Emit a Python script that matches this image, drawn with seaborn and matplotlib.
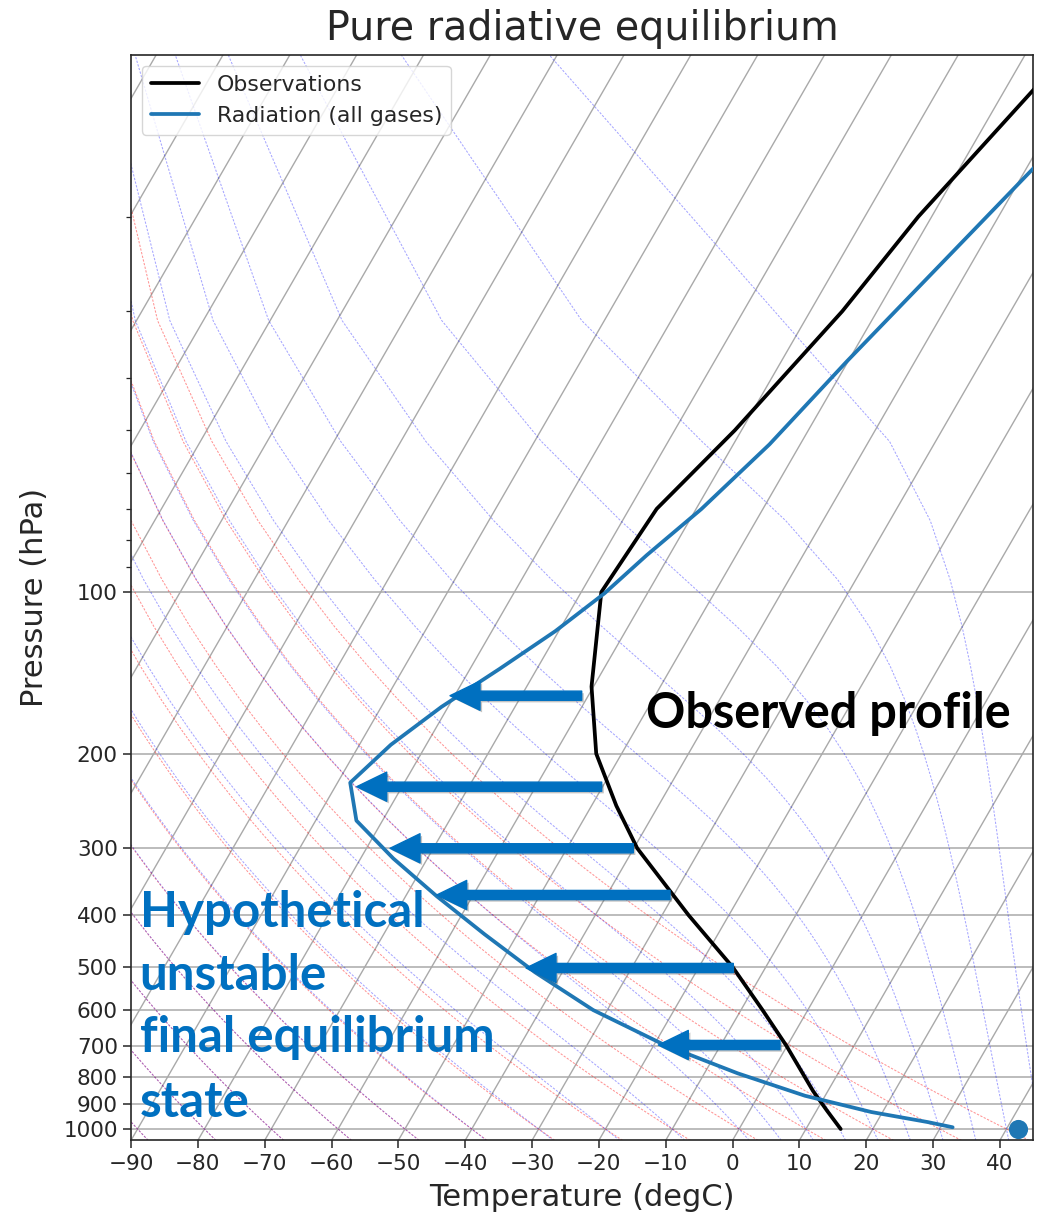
import numpy as np
import pandas as pd
import matplotlib
matplotlib.use("Agg")
import matplotlib.pyplot as plt
import seaborn as sns
from matplotlib.transforms import Affine2D
from matplotlib.collections import LineCollection
from matplotlib.ticker import FixedLocator, LogLocator, NullFormatter
import matplotlib.patheffects as pe

# ---------------------------------------------------------------- data
# Observed global-mean temperature profile on the reanalysis pressure levels
obs_lev = [1000, 925, 850, 700, 600, 500, 400, 300, 250, 200, 150, 100, 70, 50, 30, 20, 10]
obs_temp = [15.2, 11.6, 7.8, -0.1, -6.8, -14.9, -26.0, -39.5, -46.3, -53.8,
            -60.3, -67.0, -65.9, -61.0, -55.2, -52.0, -44.0]

# Pure radiative equilibrium column (model levels, hPa) and its temperatures (degC)
rad_lev = [3.54, 7.39, 13.97, 23.94, 37.23, 53.11, 70.06, 85.44, 100.51, 118.25,
           139.12, 163.66, 192.54, 226.51, 266.48, 313.50, 368.82, 433.90, 510.46,
           600.52, 696.80, 787.70, 867.16, 929.65, 970.55, 992.56]
rad_temp = [-22.0, -30.0, -36.9, -44.2, -50.2, -54.6, -59.2, -63.4, -66.4, -70.5,
            -75.6, -81.0, -85.3, -88.1, -83.9, -75.1, -65.3, -54.9, -44.1,
            -32.1, -18.5, -5.0, 7.0, 18.3, 27.6, 31.8]
rad_surface_p = [1000]
rad_surface_temp = [41.8]

series_labels = ["Observations", "Radiation (all gases)"]
x_ticks = list(range(-90, 41, 10))
y_ticks = [1000, 900, 800, 700, 600, 500, 400, 300, 200, 100]

# ---------------------------------------------------------------- style
sns.set_style("ticks")
plt.rcParams["font.family"] = ["DejaVu Sans"]
ink = "#262626"

W, H = 1040, 1216
fig = plt.figure(figsize=(W / 100, H / 100), dpi=100)
left, right, top, bottom = 131, 1033.3, 55, 1140.4
ax = fig.add_axes([left / W, (H - bottom) / H, (right - left) / W, (bottom - top) / H])
ax.set_yscale("log")
ax.set_xlim(-90, 45)
ax.set_ylim(1050, 10)

# Skew-T transform: isotherms tilted 30 degrees on screen, anchored at the bottom edge
k = np.tan(np.radians(30)) * (bottom - top) / (right - left)
skew = (ax.transScale + ax.transLimits
        + Affine2D(np.array([[1.0, k, 0.0], [0.0, 1.0, 0.0], [0.0, 0.0, 1.0]]))
        + ax.transAxes)

# ---------------------------------------------------------------- background lines
grid_c = "#a9a9a9"
for t in range(-200, 41, 10):
    ax.plot([t, t], [1050, 10], transform=skew, color=grid_c, lw=1.0, zorder=0.8)
ax.yaxis.grid(True, which="major", color=grid_c, lw=1.1, zorder=0.8)

p_lines = np.linspace(1050, 10, 50)
Rd, Cp, Lv, eps = 287.04749, 1004.6662, 2.50084e6, 0.621957

# dry adiabats from 1000 hPa
t0_dry = np.arange(-90, 46, 10) + 273.15
dry = t0_dry[:, None] * (p_lines[None, :] / 1000.0) ** (Rd / Cp) - 273.15
ax.add_collection(LineCollection([np.column_stack([d, p_lines]) for d in dry],
                                 colors="r", linestyles=(0, (2.2, 1.4)), alpha=0.42,
                                 linewidths=0.75, transform=skew, zorder=0.9))


# moist (pseudo-)adiabats from 1000 hPa, integrated in ln p
def moist_rate(p, T):
    es = 6.112 * np.exp(17.67 * (T - 273.15) / (T - 29.65))
    rs = eps * es / (p - es)
    return (Rd * T + Lv * rs) / (Cp + Lv * Lv * rs * eps / (Rd * T * T))


def integrate(T0, p_end, n=800):
    lnp = np.linspace(np.log(1000.0), np.log(p_end), n)
    out = np.empty((len(T0), n))
    T = T0.copy()
    out[:, 0] = T
    for i in range(1, n):
        h = lnp[i] - lnp[i - 1]
        p0 = np.exp(lnp[i - 1]); pm = np.exp(lnp[i - 1] + h / 2); p1 = np.exp(lnp[i])
        k1 = moist_rate(p0, T)
        k2 = moist_rate(pm, T + h / 2 * k1)
        k3 = moist_rate(pm, T + h / 2 * k2)
        k4 = moist_rate(p1, T + h * k3)
        T = T + h / 6 * (k1 + 2 * k2 + 2 * k3 + k4)
        out[:, i] = T
    return np.exp(lnp), out


t0_moist = np.concatenate((np.arange(-90, 0, 10), np.arange(0, 46, 5))) + 273.15
p_up, T_up = integrate(t0_moist, 10.0)
p_dn, T_dn = integrate(t0_moist, 1050.0, n=60)
p_all = np.concatenate((p_dn[::-1], p_up[1:]))
T_all = np.concatenate((T_dn[:, ::-1], T_up[:, 1:]), axis=1)
moist = [np.column_stack([np.interp(np.log(p_lines), np.log(p_all[::-1]), row[::-1]) - 273.15,
                          p_lines]) for row in T_all]
ax.add_collection(LineCollection(moist, colors="b", linestyles=(0, (2.2, 1.4)), alpha=0.35,
                                 linewidths=0.75, transform=skew, zorder=0.9))

# ---------------------------------------------------------------- profiles
obs_df = pd.DataFrame({"temp": obs_temp, "lev": obs_lev})
rad_df = pd.DataFrame({"temp": rad_temp, "lev": rad_lev})
sfc_df = pd.DataFrame({"temp": rad_surface_temp, "lev": rad_surface_p})

sns.lineplot(data=obs_df, x="temp", y="lev", sort=False, estimator=None, color="black",
             lw=2.7, label=series_labels[0], ax=ax, transform=skew, zorder=3)
sns.lineplot(data=rad_df, x="temp", y="lev", sort=False, estimator=None, color="#1f77b4",
             lw=2.7, label=series_labels[1], ax=ax, transform=skew, zorder=3)
sns.scatterplot(data=sfc_df, x="temp", y="lev", color="#1f77b4", s=190, linewidth=0,
                ax=ax, transform=skew, zorder=4, legend=False)

# ---------------------------------------------------------------- axes cosmetics
ax.set_xlim(-90, 45)
ax.set_ylim(1050, 10)
ax.xaxis.set_major_locator(FixedLocator(x_ticks))
ax.yaxis.set_major_locator(FixedLocator(y_ticks))
ax.set_yticklabels([str(v) for v in y_ticks])
ax.yaxis.set_minor_locator(LogLocator(base=10, subs=np.arange(2, 10)))
ax.yaxis.set_minor_formatter(NullFormatter())
ax.tick_params(axis="both", which="major", labelsize=15.5, length=6, width=1.1,
               colors=ink, direction="out")
ax.tick_params(axis="y", which="minor", length=3.5, width=0.9, colors=ink)
for s in ax.spines.values():
    s.set_visible(True)
    s.set_color(ink)
    s.set_linewidth(1.2)
ax.set_xlabel("Temperature (degC)", fontsize=22, color=ink, labelpad=7)
ax.set_ylabel("Pressure (hPa)", fontsize=22, color=ink, labelpad=10)
ax.set_title("Pure radiative equilibrium", fontsize=28.5, color=ink, pad=11)
leg = ax.legend(loc="upper left", fontsize=15.8, frameon=True, framealpha=0.8,
                edgecolor="#cccccc", borderaxespad=0.5, handlelength=2.2)
leg.get_frame().set_linewidth(1.0)
for t in leg.get_texts():
    t.set_color(ink)

# ---------------------------------------------------------------- annotations
note_blue = "#0070C0"
fig.text(646 / W, 1 - 728.3 / H, "Observed profile", family="Lato", weight="bold",
         fontsize=35, color="black", ha="left", va="baseline")
for line, base in zip(["Hypothetical", "unstable", "final equilibrium", "state"],
                      [926.7, 990.0, 1051.7, 1116.7]):
    fig.text(139.5 / W, 1 - base / H, line, family="Lato", weight="bold",
             fontsize=35.5, color=note_blue, ha="left", va="baseline")

arrows = [(581.7, 450.0, 695.7), (601.7, 356.7, 786.7), (633.3, 390.0, 848.3),
          (670.0, 436.7, 895.0), (733.3, 526.0, 968.0), (780.0, 658.3, 1045.0)]
for tail_x, tip_x, y in arrows:
    ax.annotate("", xy=(tip_x, H - y), xycoords="figure pixels",
                xytext=(tail_x, H - y), textcoords="figure pixels",
                arrowprops=dict(arrowstyle="simple,head_length=2.16,head_width=2.1,tail_width=0.66",
                                mutation_scale=10, color=note_blue, shrinkA=0, shrinkB=0,
                                path_effects=[pe.SimplePatchShadow(offset=(1.5, -1.5),
                                                                   shadow_rgbFace="#555555",
                                                                   alpha=0.35),
                                              pe.Normal()]),
                annotation_clip=False, zorder=6)

fig.savefig("out.png", dpi=100)
